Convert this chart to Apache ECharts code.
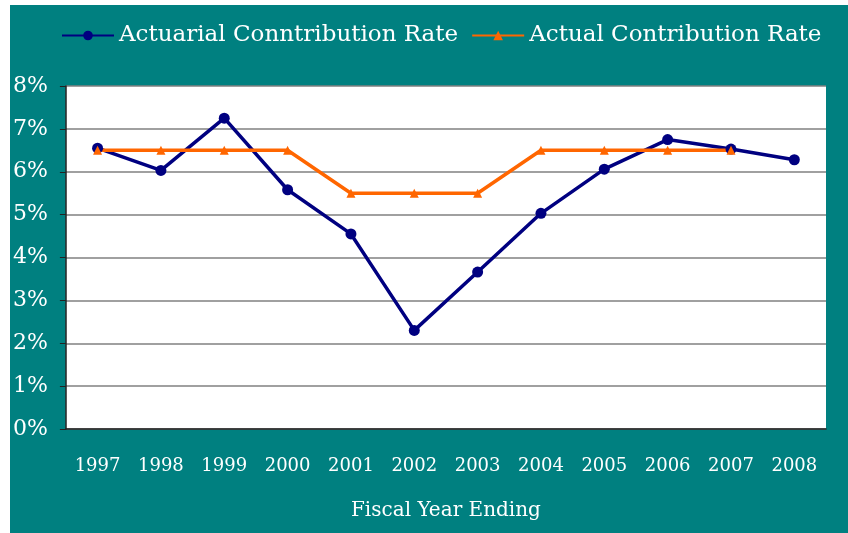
<!DOCTYPE html>
<html>
<head>
<meta charset="utf-8">
<script src="https://cdn.jsdelivr.net/npm/echarts@6/dist/echarts.min.js"></script>
<style>
    html, body { margin: 0; padding: 0; background: #fff; }
    #main { position: absolute; left: 10px; top: 5px; width: 838px; height: 528px; }
</style>
</head>
<body>
<div id="main"></div>
<script>
    var years = ['1997', '1998', '1999', '2000', '2001', '2002', '2003', '2004', '2005', '2006', '2007', '2008'];
    var actuarialRate = [6.55, 6.03, 7.25, 5.58, 4.55, 2.3, 3.66, 5.03, 6.06, 6.75, 6.53, 6.28];
    var actualRate = [6.5, 6.5, 6.5, 6.5, 5.5, 5.5, 5.5, 6.5, 6.5, 6.5, 6.5, null];
    var seriesNames = ['Actuarial Conntribution Rate', 'Actual Contribution Rate'];

    var serif = 'DejaVu Serif';
    var chart = echarts.init(document.getElementById('main'));

    var options = {
        backgroundColor: '#008080',
        animation: false,
        legend: {
            top: 14,
            left: 46,
            itemGap: 13,
            itemWidth: 52,
            itemHeight: 12,
            data: seriesNames,
            textStyle: {
                color: '#fff',
                fontFamily: serif,
                fontSize: 23
            }
        },
        grid: {
            left: 54,
            right: 22,
            top: 81,
            bottom: 104,
            show: true,
            backgroundColor: '#fff',
            borderWidth: 0
        },
        xAxis: {
            type: 'category',
            data: years,
            boundaryGap: true,
            name: 'Fiscal Year Ending',
            nameLocation: 'middle',
            nameGap: 72,
            nameTextStyle: {
                color: '#fff',
                fontFamily: serif,
                fontSize: 20
            },
            axisLine: { lineStyle: { color: '#222', width: 1.5 } },
            axisTick: { show: false },
            axisLabel: {
                color: '#fff',
                fontFamily: serif,
                fontSize: 18,
                margin: 28
            }
        },
        yAxis: {
            type: 'value',
            min: 0,
            max: 8,
            interval: 1,
            axisLine: { show: true, lineStyle: { color: '#222', width: 1.5 } },
            axisTick: { show: true, length: 6, lineStyle: { color: '#222' } },
            axisLabel: {
                color: '#fff',
                fontFamily: serif,
                fontSize: 22,
                margin: 18,
                formatter: '{value}%'
            },
            splitLine: { lineStyle: { color: '#808080', width: 1.5 } }
        },
        series: [{
            name: seriesNames[0],
            type: 'line',
            data: actuarialRate,
            symbol: 'circle',
            symbolSize: 11,
            lineStyle: { color: '#000080', width: 3.5 },
            itemStyle: { color: '#000080' }
        }, {
            name: seriesNames[1],
            type: 'line',
            data: actualRate,
            symbol: 'triangle',
            symbolSize: 9,
            lineStyle: { color: '#FF6600', width: 3.5 },
            itemStyle: { color: '#FF6600' }
        }]
    };

    chart.setOption(options);
</script>
</body>
</html>
